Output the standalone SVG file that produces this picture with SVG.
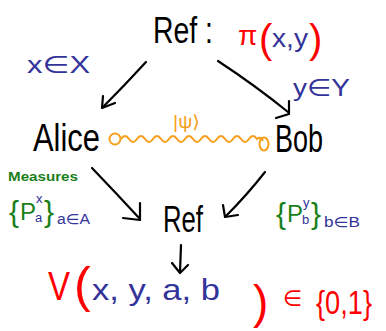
<svg xmlns="http://www.w3.org/2000/svg" width="386" height="331" viewBox="0 0 386 331">
<style>
text{font-family:"Liberation Sans","DejaVu Sans",sans-serif;}
.k{fill:#000;}
.r{fill:#f00;}
.b{fill:#33339a;}
.g{fill:#1a7f1a;}
.o{fill:#f5a01a;}
.ln{fill:none;stroke:#000;stroke-width:2.2;stroke-linecap:round;stroke-linejoin:round;}
</style>
<rect width="386" height="331" fill="#fff"/>
<g id="ref-top">
<text class="k" x="153" y="43" font-size="36" textLength="60" lengthAdjust="spacingAndGlyphs">Ref :</text>
<text class="r" x="238" y="45" font-size="28">π</text>
<text class="r" x="259" y="53" font-size="40">(</text>
<text class="b" x="272" y="47" font-size="26" textLength="36" lengthAdjust="spacingAndGlyphs">x,y</text>
<text class="r" x="309" y="53" font-size="40">)</text>
</g>
<g id="label-x"><text class="b" x="27" y="73" font-size="24" textLength="63" lengthAdjust="spacingAndGlyphs">x∈X</text></g>
<g id="label-y"><text class="b" x="293" y="96" font-size="24" textLength="57" lengthAdjust="spacingAndGlyphs">y∈Y</text></g>
<g id="alice"><text class="k" x="33" y="151" font-size="38" textLength="67" lengthAdjust="spacingAndGlyphs">Alice</text></g>
<g id="bob"><text class="k" x="275" y="152" font-size="38" textLength="48" lengthAdjust="spacingAndGlyphs">Bob</text></g>
<g id="state">
<text class="o" x="173" y="128" font-size="18" textLength="27" lengthAdjust="spacingAndGlyphs">|ψ⟩</text>
<ellipse cx="115" cy="139" rx="5.5" ry="5.5" fill="none" stroke="#f5a01a" stroke-width="2"/>
<ellipse cx="264" cy="144" rx="4.5" ry="6.5" fill="none" stroke="#f5a01a" stroke-width="2"/>
<path d="M121,139 q4,-6 8,0 t8,0 t8,0 t8,0 t8,0 t8,0 t8,0 t8,0 t8,0 t8,0 t8,0 t8,0 t8,0 t8,0 t8,0 t8,0 t8,0 q4,-3 6,2" fill="none" stroke="#f5a01a" stroke-width="2"/>
</g>
<g id="alice-meas">
<text class="g" x="8" y="181" font-size="13" font-weight="bold" textLength="70" lengthAdjust="spacingAndGlyphs">Measures</text>
<text class="g" x="9" y="222" font-size="30">{</text>
<text class="g" x="20" y="220" font-size="24">P</text>
<text class="b" x="36" y="203" font-size="13">x</text>
<text class="b" x="35" y="222" font-size="13">a</text>
<text class="g" x="44" y="222" font-size="30">}</text>
<text class="b" x="57" y="224" font-size="14" textLength="33" lengthAdjust="spacingAndGlyphs">a∈A</text>
</g>
<g id="bob-meas">
<text class="g" x="276" y="224" font-size="30">{</text>
<text class="g" x="287" y="222" font-size="24">P</text>
<text class="b" x="303" y="207" font-size="13">y</text>
<text class="b" x="302" y="224" font-size="13">b</text>
<text class="g" x="311" y="224" font-size="30">}</text>
<text class="b" x="324" y="227" font-size="14" textLength="36" lengthAdjust="spacingAndGlyphs">b∈B</text>
</g>
<g id="ref-mid"><text class="k" x="163" y="232" font-size="36" textLength="40" lengthAdjust="spacingAndGlyphs">Ref</text></g>
<g id="verdict">
<text class="r" x="48" y="300" font-size="40" textLength="22" lengthAdjust="spacingAndGlyphs">V</text>
<text class="r" x="74" y="302" font-size="50">(</text>
<text class="b" x="92" y="300" font-size="30" textLength="128" lengthAdjust="spacingAndGlyphs">x, y, a, b</text>
<text class="r" x="253" y="318" font-size="46">)</text>
<text class="r" x="283" y="306" font-size="22">∈</text>
<text class="r" x="316" y="314" font-size="34" textLength="56" lengthAdjust="spacingAndGlyphs">{0,1}</text>
</g>
<g id="connectors">
<path class="ln" d="M146,62 Q124,86 103,107"/>
<path class="ln" d="M103,96 L102,108 L115,103"/>
<path class="ln" d="M218,61 Q256,86 288,112"/>
<path class="ln" d="M276,118 L289,114 L289,101"/>
<path class="ln" d="M92,168 Q116,193 140,219"/>
<path class="ln" d="M123,218 L140,220 L140,203"/>
<path class="ln" d="M265,172 Q247,195 226,216"/>
<path class="ln" d="M223,205 L225,217 L238,215"/>
<path class="ln" d="M181,245 L180,272"/>
<path class="ln" d="M172,263 L180,273 L188,265"/>
</g>
</svg>
